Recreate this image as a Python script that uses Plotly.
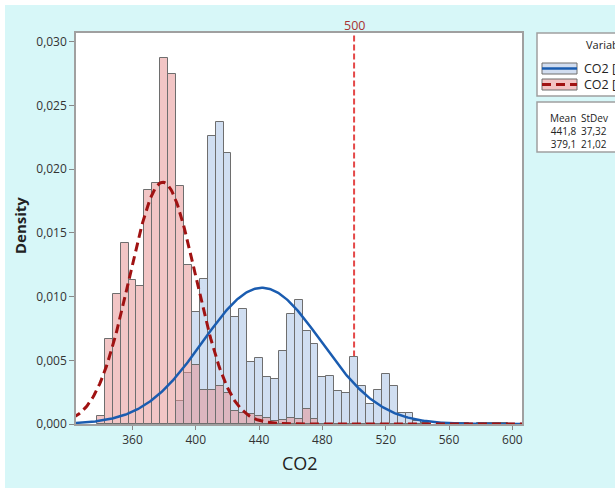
import numpy as np
import plotly.graph_objects as go

# ---------------- data ----------------
blue_bins = [390, 395, 400, 405, 410, 415, 420, 425, 430, 435, 440, 445, 450, 455,
             460, 465, 470, 475, 480, 485, 490, 495, 500, 505, 510, 515, 520, 525,
             530, 535, 540, 545, 565, 570, 580, 585, 590, 595]
blue_density = [0.0018, 0.0040, 0.0088, 0.0114, 0.0226, 0.0237, 0.0213, 0.0084, 0.0090,
                0.0049, 0.0052, 0.0037, 0.0035, 0.0057, 0.0086, 0.0097, 0.0073, 0.0063,
                0.0037, 0.0038, 0.0026, 0.0024, 0.0053, 0.0030, 0.0016, 0.0027, 0.0039,
                0.0030, 0.0009, 0.0009, 0.0002, 0.0001, 0.0001, 0.0001, 0.0001, 0.0001,
                0.0001, 0.0001]
red_bins = [340, 345, 350, 355, 360, 365, 370, 375, 380, 385, 390, 395, 400, 405, 410,
            415, 420, 425, 430, 435, 440, 445, 450, 455, 460, 465, 470, 475]
red_density = [0.0006, 0.0067, 0.0102, 0.0142, 0.0113, 0.0108, 0.0184, 0.0189, 0.0287,
               0.0275, 0.0187, 0.0125, 0.0046, 0.0027, 0.0027, 0.0030, 0.0024, 0.0010,
               0.0009, 0.0008, 0.0006, 0.0005, 0.0002, 0.0003, 0.0005, 0.0004, 0.0012,
               0.0004]
series_names = ["CO2 [", "CO2 ["]
means = [441.8, 379.1]
stdevs = [37.32, 21.02]
mean_labels = ["441,8", "379,1"]
stdev_labels = ["37,32", "21,02"]
ref_value = 500
x_ticks = [360, 400, 440, 480, 520, 560, 600]
y_ticks = [0.000, 0.005, 0.010, 0.015, 0.020, 0.025, 0.030]

# ---------------- layout geometry (pixels) ----------------
W, H = 615, 490
L, R, T, B = 76, 522, 33, 424
def px(xp):
    return (xp - L) / (R - L)
def py(yp):
    return (B - yp) / (B - T)

FONT = "Open Sans"
BLUE_LINE = "#1a5cb0"
RED_LINE = "#a01212"
BLUE_FILL = "rgba(170,195,230,0.55)"
RED_FILL = "rgba(232,150,150,0.55)"
EDGE = "#6e6e6e"

fig = go.Figure()
fig.add_trace(go.Bar(x=blue_bins, y=blue_density, width=5,
                     marker=dict(color=BLUE_FILL, line=dict(color=EDGE, width=1)),
                     showlegend=False, hoverinfo="skip"))
fig.add_trace(go.Bar(x=red_bins, y=red_density, width=5,
                     marker=dict(color=RED_FILL, line=dict(color=EDGE, width=1)),
                     showlegend=False, hoverinfo="skip"))

xs = np.linspace(322, 608, 400)
def npdf(x, m, s):
    return np.exp(-0.5 * ((x - m) / s) ** 2) / (s * np.sqrt(2 * np.pi))
fig.add_trace(go.Scatter(x=xs, y=npdf(xs, means[0], stdevs[0]), mode="lines",
                         line=dict(color=BLUE_LINE, width=2.5),
                         showlegend=False, hoverinfo="skip"))
fig.add_trace(go.Scatter(x=xs, y=npdf(xs, means[1], stdevs[1]), mode="lines",
                         line=dict(color=RED_LINE, width=3, dash="9px,5px"),
                         showlegend=False, hoverinfo="skip"))

# reference line starts at the top of the histogram bar it crosses
ref_bottom = blue_density[blue_bins.index(ref_value)] if ref_value in blue_bins else 0

shapes = [
    # cyan background
    dict(type="rect", xref="paper", yref="paper", x0=px(5), x1=px(640), y0=py(488), y1=py(5),
         fillcolor="#d7f7f8", line=dict(width=0), layer="below"),
    # white plot area
    dict(type="rect", xref="paper", yref="paper", x0=0, x1=1, y0=0, y1=1,
         fillcolor="white", line=dict(width=0), layer="below"),
    # reference line
    dict(type="line", xref="x", yref="y", x0=ref_value, x1=ref_value, y0=ref_bottom, y1=0.0307,
         line=dict(color="#e44848", width=2, dash="6px,3px"), layer="below"),
    # legend boxes
    dict(type="rect", xref="paper", yref="paper", x0=px(537), x1=px(650), y0=py(96), y1=py(33),
         fillcolor="white", line=dict(color="#a0a0a0", width=1.5)),
    dict(type="rect", xref="paper", yref="paper", x0=px(537), x1=px(650), y0=py(152), y1=py(102),
         fillcolor="white", line=dict(color="#a0a0a0", width=1.5)),
    # legend symbols
    dict(type="rect", xref="paper", yref="paper", x0=px(542), x1=px(577), y0=py(74), y1=py(63),
         fillcolor="#d1ddf0", line=dict(color=EDGE, width=1)),
    dict(type="line", xref="paper", yref="paper", x0=px(542), x1=px(577), y0=py(68.5), y1=py(68.5),
         line=dict(color=BLUE_LINE, width=2.5)),
    dict(type="rect", xref="paper", yref="paper", x0=px(542), x1=px(577), y0=py(90), y1=py(79),
         fillcolor="#f2c4c4", line=dict(color=EDGE, width=1)),
    dict(type="line", xref="paper", yref="paper", x0=px(542), x1=px(577), y0=py(84.5), y1=py(84.5),
         line=dict(color=RED_LINE, width=3, dash="9px,5px")),
]

TXT = "#222222"
ann = [
    dict(text="500", xref="x", yref="paper", x=ref_value, y=py(25), showarrow=False,
         font=dict(family=FONT, size=12.5, color="#a83232"), xanchor="center", yanchor="middle"),
    dict(text="Density", xref="paper", yref="paper", x=px(20), y=py(226), showarrow=False,
         textangle=-90, font=dict(family=FONT, size=15, color=TXT, weight="bold"),
         xanchor="center", yanchor="middle"),
    dict(text="CO2", xref="paper", yref="paper", x=px(300), y=py(463), showarrow=False,
         font=dict(family=FONT, size=18, color=TXT), xanchor="center", yanchor="middle"),
    dict(text="Variable", xref="paper", yref="paper", x=px(584), y=py(45), showarrow=False,
         font=dict(family=FONT, size=11, color=TXT), xanchor="left", yanchor="middle"),
    dict(text=series_names[0], xref="paper", yref="paper", x=px(582), y=py(68.5), showarrow=False,
         font=dict(family=FONT, size=12.5, color=TXT), xanchor="left", yanchor="middle"),
    dict(text=series_names[1], xref="paper", yref="paper", x=px(582), y=py(84.5), showarrow=False,
         font=dict(family=FONT, size=12.5, color=TXT), xanchor="left", yanchor="middle"),
    # statistics table: one text block per column
    dict(text="<br>".join(["Mean"] + mean_labels), xref="paper", yref="paper",
         x=px(578), y=py(110), showarrow=False, align="right",
         font=dict(family=FONT, size=10, color=TXT), xanchor="right", yanchor="top", borderpad=0),
    dict(text="<br>".join(["StDev"] + stdev_labels), xref="paper", yref="paper",
         x=px(580), y=py(110), showarrow=False, align="left",
         font=dict(family=FONT, size=10, color=TXT), xanchor="left", yanchor="top", borderpad=0),
]

fig.update_layout(
    width=W, height=H,
    margin=dict(l=L, r=W - R, t=T, b=H - B, pad=0),
    barmode="overlay", bargap=0,
    paper_bgcolor="white", plot_bgcolor="white",
    separators=",.",
    font=dict(family=FONT, size=12, color="#333333"),
    shapes=shapes, annotations=ann, showlegend=False,
)
fig.update_xaxes(range=[324.3, 606.1], tickvals=x_ticks, ticks="outside", ticklen=4,
                 tickcolor="#888888", showline=True, mirror=True, linecolor="#a0a0a0",
                 linewidth=1.5, showgrid=False, zeroline=False,
                 tickfont=dict(family=FONT, size=12, color="#333333"))
fig.update_yaxes(range=[0, 0.0307], tickvals=y_ticks, tickformat=".3f", ticks="outside",
                 ticklen=5, tickcolor="#888888", showline=True, mirror=True,
                 linecolor="#a0a0a0", linewidth=1.5, showgrid=False, zeroline=False,
                 tickfont=dict(family=FONT, size=12, color="#333333"))

fig.write_html("out.html")
